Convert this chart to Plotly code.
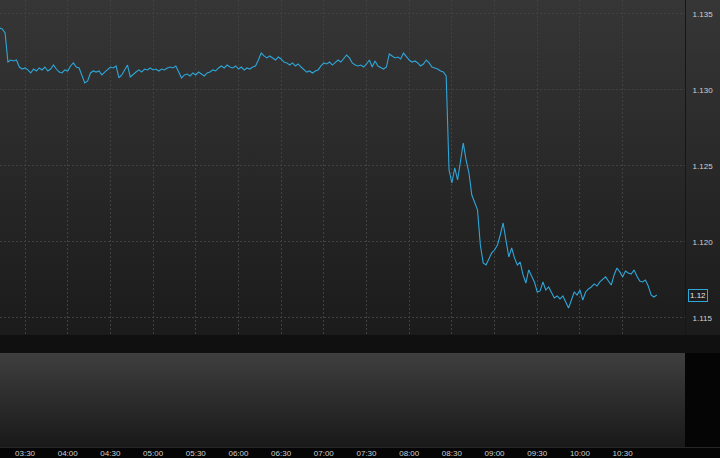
import base64
import pandas as pd
import plotly.graph_objects as go

# ---------------- data ----------------
start_time = "2019-01-07 03:12"
interval = "2min"
prices = [
    1.13408, 1.13401, 1.13375, 1.13184, 1.13197, 1.13191, 1.13197, 1.13151, 1.13138, 1.13145,
    1.13132, 1.13112, 1.13138, 1.13125, 1.13145, 1.13132, 1.13151, 1.13125, 1.13138, 1.13164,
    1.13138, 1.13118, 1.13112, 1.13132, 1.13125, 1.13158, 1.13178, 1.13151, 1.13145, 1.13092,
    1.13046, 1.13059, 1.13112, 1.13125, 1.13118, 1.13125, 1.13099, 1.13118, 1.13138, 1.13151,
    1.13145, 1.13158, 1.13079, 1.13099, 1.13132, 1.13164, 1.13086, 1.13105, 1.13118, 1.13132,
    1.13118, 1.13138, 1.13132, 1.13145, 1.13132, 1.13138, 1.13125, 1.13138, 1.13132, 1.13145,
    1.13151, 1.13145, 1.13158, 1.13118, 1.13079, 1.13099, 1.13105, 1.13092, 1.13112, 1.13099,
    1.13118, 1.13105, 1.13092, 1.13112, 1.13118, 1.13132, 1.13125, 1.13145, 1.13158, 1.13145,
    1.13164, 1.13151, 1.13145, 1.13158, 1.13138, 1.13151, 1.13132, 1.13145, 1.13138, 1.13151,
    1.13158, 1.13197, 1.13243, 1.13224, 1.13211, 1.13224, 1.13211, 1.13197, 1.13217, 1.13204,
    1.13184, 1.13178, 1.13164, 1.13178, 1.13158, 1.13171, 1.13151, 1.13132, 1.13118, 1.13125,
    1.13112, 1.13125, 1.13132, 1.13158, 1.13178, 1.13171, 1.13184, 1.13164, 1.13184, 1.13197,
    1.13184, 1.13211, 1.13230, 1.13211, 1.13178, 1.13164, 1.13158, 1.13164, 1.13151, 1.13171,
    1.13197, 1.13151, 1.13191, 1.13158, 1.13145, 1.13138, 1.13151, 1.13237, 1.13224, 1.13211,
    1.13217, 1.13204, 1.13243, 1.13217, 1.13197, 1.13184, 1.13191, 1.13178, 1.13158, 1.13171,
    1.13197, 1.13178, 1.13151, 1.13145, 1.13138, 1.13125, 1.13118, 1.13092, 1.12474, 1.12388,
    1.12487, 1.12408, 1.12539, 1.12651, 1.12539, 1.12454, 1.12309, 1.12256, 1.12211, 1.11980,
    1.11862, 1.11849, 1.11895, 1.11928, 1.11947, 1.11980, 1.12046, 1.12125, 1.12013, 1.11901,
    1.11961, 1.11895, 1.11849, 1.11868, 1.11783, 1.11730, 1.11816, 1.11776, 1.11737, 1.11671,
    1.11678, 1.11737, 1.11684, 1.11704, 1.11671, 1.11632, 1.11645, 1.11625, 1.11645, 1.11605,
    1.11566, 1.11618, 1.11671, 1.11651, 1.11684, 1.11618, 1.11671, 1.11691, 1.11704, 1.11724,
    1.11710, 1.11737, 1.11757, 1.11770, 1.11743, 1.11717, 1.11783, 1.11829, 1.11803, 1.11770,
    1.11809, 1.11796, 1.11789, 1.11816, 1.11776, 1.11743, 1.11737, 1.11750, 1.11710, 1.11651,
    1.11638, 1.11651,
]
x_tick_labels = ["03:30", "04:00", "04:30", "05:00", "05:30", "06:00", "06:30", "07:00",
                 "07:30", "08:00", "08:30", "09:00", "09:30", "10:00", "10:30"]
y_tick_values = [1.115, 1.120, 1.125, 1.130, 1.135]

day = "2019-01-07"
times = pd.date_range(start=start_time, periods=len(prices), freq=interval)
x_tick_vals = [pd.Timestamp(f"{day} {t}") for t in x_tick_labels]

# ---------------- styling ----------------
W, H = 720, 458
LINE = "#2ea6d8"
GRID = "#414141"
DASH = "2px,2px"
TXT = "#cfcfcf"
FONT = "Liberation Sans, Arial, sans-serif"

main_bottom_px = 335
lower_top_px, lower_bottom_px = 353, 447
plot_right_px = 685

svg = f"""<svg xmlns='http://www.w3.org/2000/svg' width='{W}' height='{H}' viewBox='0 0 {W} {H}' preserveAspectRatio='none'>
<defs>
<linearGradient id='a' x1='0' y1='0' x2='0' y2='1'><stop offset='0' stop-color='#363636'/><stop offset='1' stop-color='#1b1b1b'/></linearGradient>
<linearGradient id='b' x1='0' y1='0' x2='0' y2='1'><stop offset='0' stop-color='#3f3f3f'/><stop offset='1' stop-color='#191919'/></linearGradient>
</defs>
<rect width='{W}' height='{H}' fill='#050505'/>
<rect x='0' y='0' width='{W}' height='{main_bottom_px}' fill='url(#a)'/>
<rect x='0' y='{main_bottom_px}' width='{W}' height='{lower_top_px-main_bottom_px}' fill='#101010'/>
<rect x='0' y='{lower_top_px}' width='{plot_right_px}' height='{lower_bottom_px-lower_top_px}' fill='url(#b)'/>
<rect x='0' y='{lower_bottom_px}' width='{W}' height='1' fill='#262626'/>
</svg>"""
bg_src = "data:image/svg+xml;base64," + base64.b64encode(svg.encode()).decode()

x_dom = [0, plot_right_px / W]
main_dom = [(H - main_bottom_px) / H, 1]
lower_dom = [(H - lower_bottom_px) / H, (H - lower_top_px) / H]

x_range = [pd.Timestamp(f"{day} 03:12:25"), pd.Timestamp(f"{day} 11:13:50")]
y_range = [1.11388, 1.13592]

fig = go.Figure()
fig.add_trace(go.Scatter(
    x=times, y=prices, mode="lines",
    line=dict(color=LINE, width=1.1),
    hoverinfo="skip", showlegend=False,
    xaxis="x", yaxis="y",
))
fig.add_trace(go.Scatter(
    x=[], y=[], mode="lines", showlegend=False, hoverinfo="skip",
    xaxis="x2", yaxis="y2",
))

last = prices[-1]
fig.add_annotation(
    xref="paper", yref="y", x=688 / W, y=last, xanchor="left", yanchor="middle",
    text=f"{last:.2f}", showarrow=False,
    font=dict(family=FONT, size=8, color="#e6e6e6"),
    bgcolor="#1d1d1d", bordercolor=LINE, borderwidth=1, borderpad=1,
)

fig.update_layout(
    width=W, height=H,
    margin=dict(l=0, r=0, t=0, b=0),
    paper_bgcolor="#050505",
    plot_bgcolor="rgba(0,0,0,0)",
    images=[dict(source=bg_src, xref="paper", yref="paper", x=0, y=1,
                 sizex=1, sizey=1, sizing="stretch", xanchor="left",
                 yanchor="top", layer="below")],
    xaxis=dict(
        type="date", domain=x_dom, anchor="y", range=x_range,
        tickmode="array", tickvals=x_tick_vals, ticktext=x_tick_labels,
        showticklabels=False, ticks="",
        showgrid=True, gridcolor=GRID, griddash=DASH, gridwidth=1,
        zeroline=False, showline=False,
    ),
    yaxis=dict(
        domain=main_dom, anchor="x", side="right", range=y_range,
        tickmode="array", tickvals=y_tick_values,
        ticktext=[f"{v:.3f}" for v in y_tick_values],
        tickfont=dict(family=FONT, size=8, color=TXT), ticks="",
        ticklabelstandoff=5,
        showgrid=True, gridcolor=GRID, griddash=DASH, gridwidth=1,
        zeroline=False, showline=True, linecolor="#161616", linewidth=1,
    ),
    xaxis2=dict(
        type="date", domain=x_dom, anchor="y2", matches="x",
        tickmode="array", tickvals=x_tick_vals, ticktext=x_tick_labels,
        tickfont=dict(family=FONT, size=8, color=TXT), ticks="",
        showgrid=False, zeroline=False, showline=False,
    ),
    yaxis2=dict(
        domain=lower_dom, anchor="x2", range=[0, 1],
        showticklabels=False, showgrid=False, zeroline=False, ticks="",
        showline=False,
    ),
    hovermode=False,
)

fig.write_html(
    "out.html",
    config={"displayModeBar": False, "staticPlot": True},
    post_script="document.body.style.margin='0';document.body.style.overflow='hidden';",
)
